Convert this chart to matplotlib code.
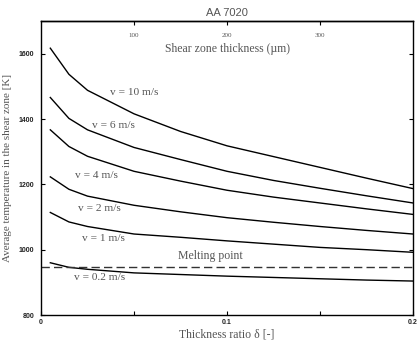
import matplotlib
matplotlib.use("Agg")
import matplotlib.pyplot as plt
from matplotlib.ticker import FixedLocator

# thickness ratio delta [-]
delta = [0.005, 0.015, 0.025, 0.05, 0.075, 0.1, 0.125, 0.15, 0.175, 0.2]

# average temperature in the shear zone [K]
t_v10 = [1617, 1537, 1488, 1416, 1362, 1318, 1285, 1252, 1219, 1187]
t_v6 = [1466, 1402, 1367, 1313, 1276, 1240, 1212, 1188, 1165, 1143]
t_v4 = [1367, 1316, 1286, 1240, 1210, 1182, 1161, 1143, 1125, 1108]
t_v2 = [1223, 1185, 1164, 1136, 1116, 1098, 1084, 1071, 1059, 1048]
t_v1 = [1114, 1085, 1071, 1048, 1038, 1027, 1017, 1007, 1000, 992]
t_v02 = [960, 946, 940, 929, 924, 919, 915, 911, 907, 904]

melting_point = 948

curve_labels = ["v = 10 m/s", "v = 6 m/s", "v = 4 m/s", "v = 2 m/s", "v = 1 m/s", "v = 0.2 m/s"]
label_x = [0.050, 0.0387, 0.030, 0.0315, 0.0336, 0.0317]
label_y = [1480, 1379, 1228, 1127, 1033, 916]

serif = "Liberation Serif"
sans = "Liberation Sans"
grey = "#555555"

fig = plt.figure(figsize=(4.19, 3.41), dpi=100)
ax = fig.add_axes([0.0979, 0.0762, 0.888, 0.862])

for t in [t_v10, t_v6, t_v4, t_v2, t_v1, t_v02]:
    ax.plot(delta, t, color="black", lw=1.0)

ax.axhline(melting_point, color="#333333", lw=1.0, ls=(0, (6, 3)))

for lab, x, y in zip(curve_labels, label_x, label_y):
    ax.text(x, y, lab, ha="center", va="center", fontsize=8.2, family=serif, color=grey)
ax.text(0.0909, 982, "Melting point", ha="center", va="center", fontsize=8.5,
        family=serif, color=grey)

ax.set_xlim(0, 0.2)
ax.set_ylim(800, 1700)
ax.xaxis.set_major_locator(FixedLocator([0, 0.1, 0.2]))
ax.xaxis.set_minor_locator(FixedLocator([0.05, 0.15]))
ax.set_xticklabels(["0", "0.1", "0.2"])
ax.yaxis.set_major_locator(FixedLocator([800, 1000, 1200, 1400, 1600]))
ax.tick_params(axis="both", which="both", direction="in", length=3, width=0.8,
               labelsize=5, labelcolor="#222222")
ax.tick_params(axis="x", pad=3)
ax.tick_params(axis="y", right=True, pad=5)
for lbl in ax.get_xticklabels() + ax.get_yticklabels():
    lbl.set_family(sans)
    lbl.set_fontweight("bold")

secax = ax.secondary_xaxis("top", functions=(lambda d: d * 2000, lambda s: s / 2000))
secax.xaxis.set_major_locator(FixedLocator([100, 200, 300]))
secax.tick_params(axis="x", direction="in", length=3, width=0.8, labelsize=5,
                  pad=-12, labelcolor=grey)
for lbl in secax.get_xticklabels():
    lbl.set_family(serif)
ax.text(0.5, 0.905, "Shear zone thickness (\u00b5m)", transform=ax.transAxes,
        ha="center", va="center", fontsize=8.5, family=serif, color=grey)

for sp in ax.spines.values():
    sp.set_linewidth(1.0)
for sp in secax.spines.values():
    sp.set_linewidth(1.0)

ax.set_title("AA 7020", fontsize=8, family=sans, color=grey, pad=4)
ax.set_xlabel("Thickness ratio \u03b4 [-]", fontsize=8.5, family=serif, color=grey, labelpad=2)
ax.set_ylabel("Average temperature in the shear zone [K]", fontsize=8, family=serif,
              color=grey, labelpad=5)

fig.savefig("out.png", dpi=100)
